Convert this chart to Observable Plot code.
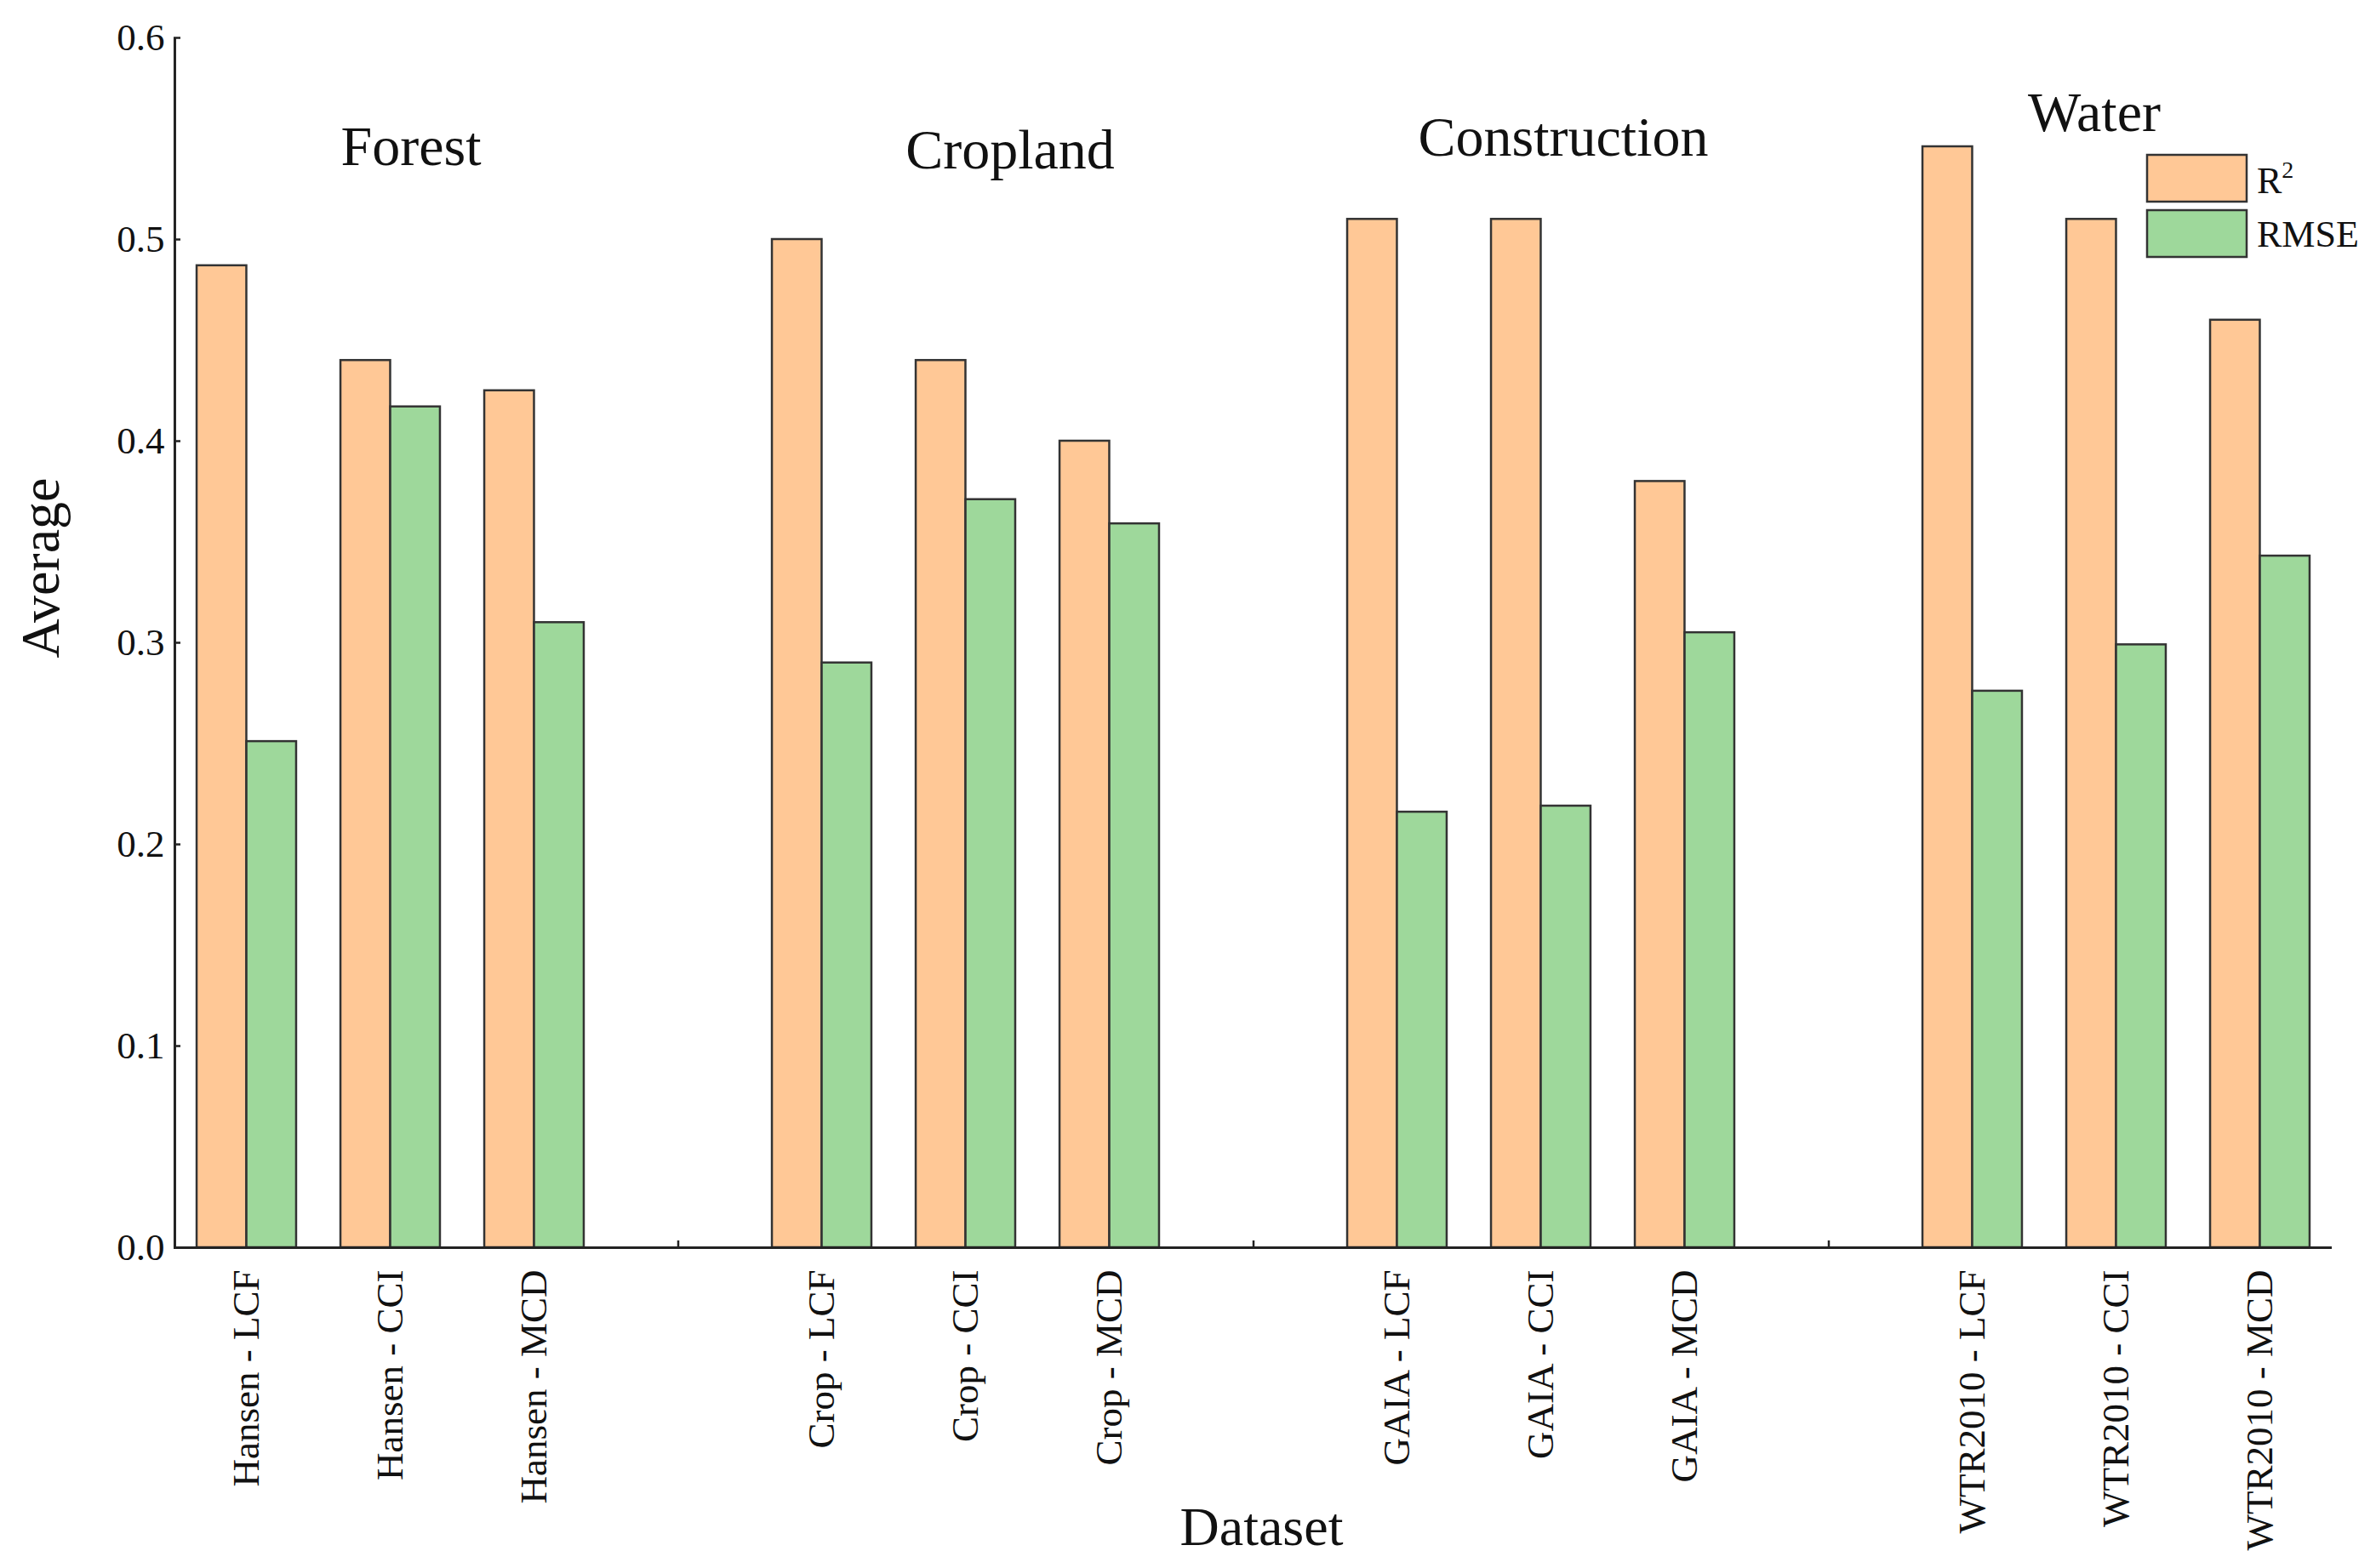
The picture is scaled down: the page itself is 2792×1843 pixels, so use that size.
<!DOCTYPE html>
<html>
<head>
<meta charset="utf-8">
<script src="https://cdn.jsdelivr.net/npm/d3@7"></script>
<script src="https://cdn.jsdelivr.net/npm/@observablehq/plot@0.6"></script>
<style>
  html, body { margin: 0; padding: 0; background: #fff; }
  #chart { position: relative; width: 2792px; height: 1843px; }
  svg { font-family: "Liberation Serif", "DejaVu Serif", serif; }
</style>
</head>
<body>
<div id="chart"></div>
<script>
// ---- data ----
const categories = ["Hansen - LCF", "Hansen - CCI", "Hansen - MCD",
                    "Crop - LCF", "Crop - CCI", "Crop - MCD",
                    "GAIA - LCF", "GAIA - CCI", "GAIA - MCD",
                    "WTR2010 - LCF", "WTR2010 - CCI", "WTR2010 - MCD"];
const groups = ["Forest", "Cropland", "Construction", "Water"];
const seriesNames = ["R²", "RMSE"];
const r2Values   = [0.487, 0.440, 0.425, 0.500, 0.440, 0.400, 0.510, 0.510, 0.380, 0.546, 0.510, 0.460];
const rmseValues = [0.251, 0.417, 0.310, 0.290, 0.371, 0.359, 0.216, 0.219, 0.305, 0.276, 0.299, 0.343];
const yTicks = [0, 0.1, 0.2, 0.3, 0.4, 0.5, 0.6];
const xTitle = "Dataset";
const yTitle = "Average";

// ---- build table / slot domain ----
const perGroup = categories.length / groups.length;
const slotDomain = [];
groups.forEach((g, gi) => {
  if (gi > 0) slotDomain.push(`__gap${gi}`);
  for (let k = 0; k < perGroup; k++) slotDomain.push(categories[gi * perGroup + k]);
});
const table = [];
categories.forEach((c, i) => {
  table.push({slot: c, series: seriesNames[0], value: r2Values[i]});
  table.push({slot: c, series: seriesNames[1], value: rmseValues[i]});
});

// ---- layout ----
const W = 2792, H = 1843;
const ml = 204, mr = 52, mt = 44, mb = 377;
const step = (W - ml - mr) / slotDomain.length;
const outer = step * 0.154;
const fillColors = ["#FFC896", "#9ED89B"];
const strokeColor = "#333";
const groupOffsets = [[24, 149], [52, 153], [26, 138], [-26, 109]];

const groupMarks = groups.map((g, gi) =>
  Plot.text([g], {
    x: () => categories[gi * perGroup + Math.floor(perGroup / 2)],
    text: d => d,
    frameAnchor: "top",
    textAnchor: "middle",
    lineAnchor: "bottom",
    dx: groupOffsets[gi][0],
    dy: groupOffsets[gi][1],
    fontSize: 66,
    fill: "#111"
  })
);

const chart = Plot.plot({
  width: W,
  height: H,
  marginLeft: ml,
  marginRight: mr,
  marginTop: mt,
  marginBottom: mb,
  style: {fontFamily: '"Liberation Serif", "DejaVu Serif", serif', background: "#fff", color: "#111"},
  x: {type: "band", domain: slotDomain, padding: 0, label: null},
  y: {domain: [0, 0.6], label: null},
  color: {domain: seriesNames, range: fillColors},
  marks: [
    // inward ticks
    Plot.axisX({tickSize: 8, dy: -8, fill: "none", stroke: "#222", strokeWidth: 2.5, label: null}),
    Plot.axisY({ticks: yTicks, tickSize: 8, dx: 8, fill: "none", stroke: "#222", strokeWidth: 2.5, label: null}),
    // tick labels
    Plot.axisX({
      tickSize: 0, tickPadding: 26, tickRotate: -90, fontSize: 45, fill: "#111", label: null,
      tickFormat: d => (String(d).startsWith("__gap") ? "" : d)
    }),
    Plot.axisY({ticks: yTicks, tickSize: 0, tickPadding: 11, tickFormat: d3.format(".1f"), fontSize: 45, fill: "#111", label: null}),
    // bars
    Plot.barY(table.filter(d => d.series === seriesNames[0]), {
      x: "slot", y: "value", fill: "series", stroke: strokeColor, strokeWidth: 2.5,
      insetLeft: outer, insetRight: step / 2
    }),
    Plot.barY(table.filter(d => d.series === seriesNames[1]), {
      x: "slot", y: "value", fill: "series", stroke: strokeColor, strokeWidth: 2.5,
      insetLeft: step / 2, insetRight: outer
    }),
    // axis lines
    Plot.ruleY([0], {stroke: "#222", strokeWidth: 3}),
    Plot.ruleX([slotDomain[0]], {dx: -step / 2, stroke: "#222", strokeWidth: 3}),
    // group titles
    ...groupMarks,
    // axis titles
    Plot.text([yTitle], {text: d => d, frameAnchor: "left", textAnchor: "middle", rotate: -90, lineAnchor: "bottom", dx: -136, dy: -88, fontSize: 64, fill: "#111"}),
    Plot.text([xTitle], {text: d => d, frameAnchor: "bottom", textAnchor: "middle", lineAnchor: "bottom", dx: 10, dy: 349, fontSize: 64, fill: "#111"})
  ]
});

document.getElementById("chart").appendChild(chart);

// ---- legend (inside the plot, top right) ----
const color = chart.scale("color");
const svg = d3.select(chart.tagName.toLowerCase() === "svg" ? chart : chart.querySelector("svg"));
const lg = svg.append("g").attr("class", "legend").attr("text-anchor", "start");
const boxX = 2523, boxW = 117, boxH = 55;
const boxY = [182, 247];
const baselines = [227, 290];
seriesNames.forEach((s, i) => {
  lg.append("rect")
    .attr("x", boxX).attr("y", boxY[i]).attr("width", boxW).attr("height", boxH)
    .attr("fill", color.apply(s)).attr("stroke", strokeColor).attr("stroke-width", 2.5);
  const t = lg.append("text")
    .attr("x", 2652).attr("y", baselines[i])
    .attr("text-anchor", "start")
    .attr("font-size", 44).attr("fill", "#111")
    .attr("font-family", '"Liberation Serif", "DejaVu Serif", serif');
  if (s === "R²") {
    t.append("tspan").text("R");
    t.append("tspan").attr("font-size", 28).attr("dy", -18).text("2");
  } else {
    t.text(s);
  }
});
</script>
</body>
</html>
